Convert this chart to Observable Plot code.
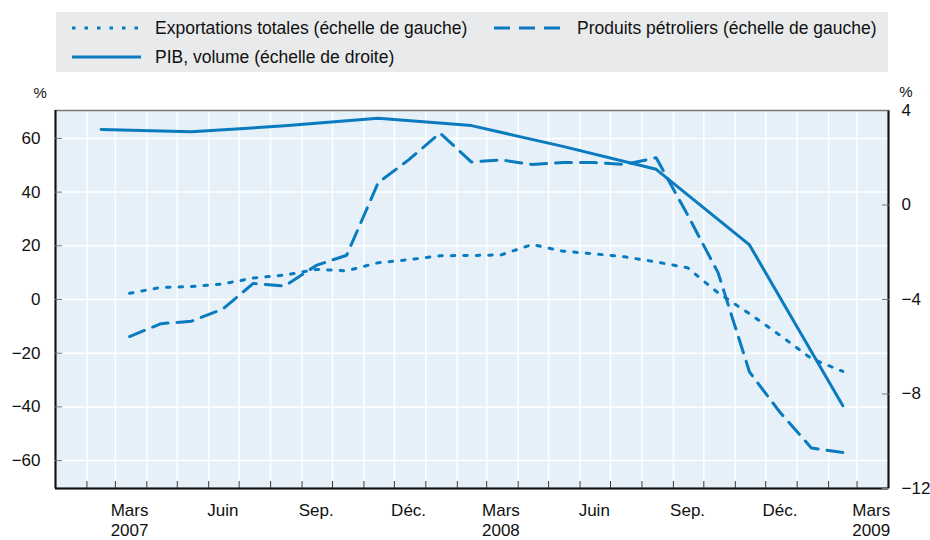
<!DOCTYPE html>
<html>
<head>
<meta charset="utf-8">
<script src="https://cdn.jsdelivr.net/npm/d3@7"></script>
<script src="https://cdn.jsdelivr.net/npm/@observablehq/plot@0.6"></script>
<style>
  body { margin: 0; background: #fff; font-family: "Liberation Sans Narrow", "Liberation Sans", Arial, sans-serif; }
  #legend { position: relative; width: 930px; height: 80px; }
  #legend .box { position: absolute; left: 56px; top: 12px; width: 832px; height: 60px; background: #e9eaeb; }
  #legend .item { position: absolute; display: flex; align-items: center; font-size: 17.5px; color: #111; white-space: nowrap; }
  #legend svg { margin-right: 14px; }
  #chart svg { display: block; }
</style>
</head>
<body>
<div id="legend"><div class="box"></div></div>
<div id="chart"></div>
<script>
// ---- Data ----
const monthDates = [
  "2007-03-15","2007-04-15","2007-05-15","2007-06-15","2007-07-15","2007-08-15",
  "2007-09-15","2007-10-15","2007-11-15","2007-12-15","2008-01-15","2008-02-15",
  "2008-03-15","2008-04-15","2008-05-15","2008-06-15","2008-07-15","2008-08-15",
  "2008-09-15","2008-10-15","2008-11-15","2008-12-15","2009-01-15","2009-02-15"
];
// Exportations totales, % (left scale)
const exportsTotal = [2.3, 4.5, 4.8, 5.8, 8.0, 9.1, 11.2, 10.7, 13.7, 14.8, 16.3, 16.4,
                      16.6, 20.5, 18.0, 17.0, 15.9, 14.0, 11.8, 2.5, -5.3, -13.3, -22.0, -26.8];
// Produits pétroliers, % (left scale)
const petroleum = [-13.8, -9.0, -8.1, -3.5, 6.0, 5.0, 12.7, 16.5, 43.5, 52.0, 62.0, 51.2,
                   52.0, 50.3, 51.0, 51.0, 50.3, 52.8, 31.5, 10.0, -27.0, -42.0, -55.3, -57.0];
// PIB, volume, % (right scale), quarterly
const gdpDates = ["2007-02-15","2007-05-15","2007-08-15","2007-11-15","2008-02-15",
                  "2008-05-15","2008-08-15","2008-11-15","2009-02-15"];
const gdp = [3.2, 3.1, 3.35, 3.67, 3.36, 2.48, 1.51, -1.69, -8.5];

// Axis ticks and labels
const leftTicks = [-60, -40, -20, 0, 20, 40, 60];
const rightTicks = [4, 0, -4, -8, -12];
const xLabelDates = ["2007-03-15","2007-06-15","2007-09-15","2007-12-15","2008-03-15",
                     "2008-06-15","2008-09-15","2008-12-15","2009-03-15"];
const xLabelTexts = ["Mars\n2007","Juin","Sep.","Déc.","Mars\n2008","Juin","Sep.","Déc.","Mars\n2009"];
const xDomain = ["2007-01-01", "2009-04-01"];
const leftDomain = [-70.4, 70.4];
const rightDomain = [-12, 4];

const legendItems = [
  {label: "Exportations totales (échelle de gauche)", dash: "3.5,9", x: 72, y: 28},
  {label: "Produits pétroliers (échelle de gauche)", dash: "16,9", x: 494, y: 28},
  {label: "PIB, volume (échelle de droite)", dash: null, x: 72, y: 57}
];

// ---- Helpers ----
const parse = d3.utcParse("%Y-%m-%d");
const blue = "#0a7bbf";
const fmt = d => d < 0 ? "\u2212" + Math.abs(d) : String(d);
// map right-scale value onto left scale
const r2l = d3.scaleLinear().domain(rightDomain).range(leftDomain);
const l2r = r2l.invert;

const monthly = monthDates.map((d, i) => ({date: parse(d), exp: exportsTotal[i], pet: petroleum[i]}));
const quarterly = gdpDates.map((d, i) => ({date: parse(d), gdp: gdp[i]}));
const xLabels = xLabelDates.map((d, i) => ({date: parse(d), text: xLabelTexts[i]}));
const x0 = parse(xDomain[0]), x1 = parse(xDomain[1]);
const monthTicks = d3.utcMonth.range(d3.utcMonth.offset(x0, 1), x1);

// ---- Legend ----
const legend = document.getElementById("legend");
for (const it of legendItems) {
  const div = document.createElement("div");
  div.className = "item";
  div.style.left = it.x + "px";
  div.style.top = (it.y - 12) + "px";
  div.style.height = "24px";
  div.innerHTML = `<svg width="69" height="6"><line x1="0" y1="3" x2="69" y2="3" stroke="${blue}" stroke-width="3" ${it.dash ? `stroke-dasharray="${it.dash}"` : ""}/></svg><span>${it.label}</span>`;
  legend.appendChild(div);
}

// ---- Chart ----
const chart = Plot.plot({
  width: 930,
  height: 460,
  marginTop: 30,
  marginBottom: 52,
  marginLeft: 55,
  marginRight: 42,
  style: {fontSize: "17px", fontFamily: "'Liberation Sans Narrow', 'Liberation Sans', Arial, sans-serif", color: "#111", background: "white"},
  x: {type: "utc", domain: [x0, x1], label: null},
  y: {domain: leftDomain, label: null},
  marks: [
    Plot.frame({fill: "#e5f0f8", stroke: null}),
    Plot.gridX(monthTicks, {stroke: "white", strokeOpacity: 1, strokeWidth: 1.5}),
    Plot.gridY(leftTicks, {stroke: "white", strokeOpacity: 1, strokeWidth: 1.5}),
    Plot.line(monthly, {x: "date", y: "exp", stroke: blue, strokeWidth: 3, strokeDasharray: "3.5,9"}),
    Plot.line(monthly, {x: "date", y: "pet", stroke: blue, strokeWidth: 3, strokeDasharray: "16,9"}),
    Plot.line(quarterly, {x: "date", y: d => r2l(d.gdp), stroke: blue, strokeWidth: 3}),
    Plot.frame({stroke: "#777", strokeWidth: 1.5}),
    Plot.ruleX([x0, x1], {stroke: "#111", strokeWidth: 2}),
    Plot.ruleY([leftDomain[0]], {stroke: "#111", strokeWidth: 2}),
    Plot.axisY(leftTicks, {anchor: "left", tickSize: -7, tickPadding: 22, stroke: "#777", fill: "#111", tickFormat: fmt, label: null}),
    Plot.axisY(rightTicks.map(r2l), {anchor: "right", tickSize: -7, tickPadding: 20, stroke: "#777", fill: "#111", tickFormat: d => fmt(Math.round(l2r(d))), label: null}),
    Plot.axisX(monthTicks, {anchor: "bottom", tickSize: -7, stroke: "#333", tickFormat: () => "", label: null}),
    Plot.text(xLabels, {x: "date", frameAnchor: "bottom", text: "text", lineAnchor: "top", lineHeight: 1.15, dy: 14, fill: "#111"}),
    Plot.text(["%"], {frameAnchor: "top-left", dx: -22, dy: -23, fontSize: 15, fill: "#111"}),
    Plot.text(["%"], {frameAnchor: "top-right", dx: 24, dy: -24, fontSize: 15, fill: "#111"})
  ]
});
document.getElementById("chart").appendChild(chart);
</script>
</body>
</html>
